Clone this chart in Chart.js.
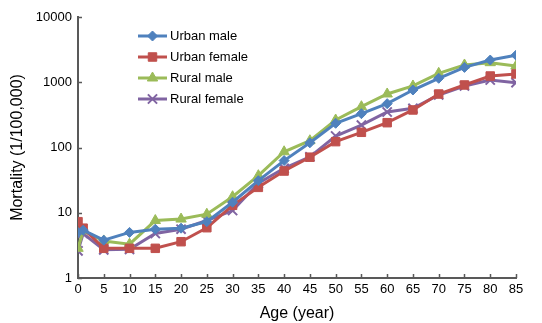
<!DOCTYPE html>
<html>
<head>
<meta charset="utf-8">
<script src="https://cdn.jsdelivr.net/npm/chart.js@4"></script>
<style>
  html, body { margin: 0; padding: 0; background: #fff; }
  #wrap { width: 542px; height: 323px; }
</style>
</head>
<body>
<div id="wrap"><canvas id="myChart" width="542" height="323"></canvas></div>
<script>
const ages = [0, 1, 5, 10, 15, 20, 25, 30, 35, 40, 45, 50, 55, 60, 65, 70, 75, 80, 85];
const urbanMale   = [5.0, 5.4, 3.8, 5.0, 5.6, 5.8, 7.3, 14.5, 31, 63, 118, 235, 330, 470, 760, 1150, 1690, 2190, 2600];
const urbanFemale = [7.3, 5.8, 2.85, 2.85, 2.85, 3.6, 5.9, 13, 24.5, 43.6, 71, 123, 171, 240, 376, 660, 908, 1246, 1340];
const ruralMale   = [2.85, 5.3, 3.7, 3.3, 7.6, 8.0, 9.5, 17.6, 37, 86, 127, 264, 422, 661, 877, 1370, 1840, 1995, 1770];
const ruralFemale = [2.6, 4.8, 2.7, 2.75, 4.8, 5.6, 7.6, 10.8, 28.3, 48, 72, 150, 221, 350, 399, 638, 877, 1082, 984];
const yTicks = [1, 10, 100, 1000, 10000];

const seriesNames = ['Urban male', 'Urban female', 'Rural male', 'Rural female'];
const colors = ['#4F81BD', '#C0504D', '#9BBB59', '#8064A2'];
const styles = ['rectRot', 'rect', 'triangle', 'crossRot'];
const radii = [5, 6, 6, 6.5];
const allData = [urbanMale, urbanFemale, ruralMale, ruralFemale];

const FONT = '"Liberation Sans", Arial, sans-serif';
const AXIS = '#595959';

const datasets = allData.map((vals, i) => ({
  label: seriesNames[i],
  data: ages.map((a, j) => ({ x: a, y: vals[j] })),
  borderColor: colors[i],
  backgroundColor: colors[i],
  borderWidth: 3,
  pointStyle: styles[i],
  pointRadius: radii[i],
  pointBorderWidth: i === 3 ? 2 : 1,
  pointBorderColor: colors[i],
  pointBackgroundColor: colors[i],
  tension: 0
}));

// tick marks point into the plot, as in the original
const innerTicks = {
  id: 'innerTicks',
  afterDatasetsDraw(chart) {
    const c = chart.ctx;
    const xs = chart.scales.x, ys = chart.scales.y;
    c.save();
    c.strokeStyle = AXIS;
    c.lineWidth = 1.5;
    c.beginPath();
    xs.ticks.forEach(t => {
      const px = Math.round(xs.getPixelForValue(t.value)) + 0.5;
      c.moveTo(px, ys.bottom);
      c.lineTo(px, ys.bottom - 4);
    });
    ys.ticks.forEach(t => {
      const py = Math.round(ys.getPixelForValue(t.value)) + 0.5;
      c.moveTo(xs.left, py);
      c.lineTo(xs.left + 4, py);
    });
    c.stroke();
    c.restore();
  }
};

// legend drawn inside the plot, like the original
const insideLegend = {
  id: 'insideLegend',
  afterDraw(chart) {
    const c = chart.ctx;
    const x0 = 138, x1 = 167, tx = 170;
    const rows = [36, 57, 78, 99];
    c.save();
    datasets.forEach((ds, i) => {
      const y = rows[i];
      c.strokeStyle = ds.borderColor;
      c.lineWidth = 3;
      c.beginPath();
      c.moveTo(x0, y);
      c.lineTo(x1, y);
      c.stroke();
      c.fillStyle = ds.backgroundColor;
      c.strokeStyle = ds.borderColor;
      c.lineWidth = ds.pointBorderWidth;
      Chart.helpers.drawPoint(c, { pointStyle: ds.pointStyle, radius: ds.pointRadius, borderWidth: ds.pointBorderWidth, rotation: 0 }, (x0 + x1) / 2, y);
      c.fillStyle = '#000';
      c.font = '13px ' + FONT;
      c.textBaseline = 'middle';
      c.textAlign = 'left';
      c.fillText(ds.label, tx, y);
    });
    c.restore();
  }
};

const ctx = document.getElementById('myChart').getContext('2d');
const myChart = new Chart(ctx, {
  type: 'line',
  data: { datasets: datasets },
  plugins: [innerTicks, insideLegend],
  options: {
    responsive: false,
    animation: false,
    layout: { padding: { left: 8, right: 26, top: 17, bottom: 0 } },
    plugins: {
      legend: { display: false },
      tooltip: { enabled: false }
    },
    scales: {
      x: {
        type: 'linear',
        min: 0,
        max: 85,
        ticks: { stepSize: 5, color: '#000', font: { family: FONT, size: 13 }, padding: 4, maxRotation: 0 },
        grid: { display: false, drawOnChartArea: false, drawTicks: false },
        border: { display: true, color: AXIS, width: 2 },
        title: { display: true, text: 'Age (year)', color: '#000', font: { family: FONT, size: 16 }, padding: { top: 4, bottom: 0 } },
        afterFit(scale) { scale.height = 45; }
      },
      y: {
        type: 'logarithmic',
        min: 1,
        max: 10000,
        afterBuildTicks(scale) { scale.ticks = yTicks.map(v => ({ value: v })); },
        ticks: {
          color: '#000',
          font: { family: FONT, size: 13 },
          padding: 6,
          callback: (v) => String(v)
        },
        grid: { display: false, drawOnChartArea: false, drawTicks: false },
        border: { display: true, color: AXIS, width: 2 },
        title: { display: true, text: 'Mortality (1/100,000)', color: '#000', font: { family: FONT, size: 16 }, padding: { top: 0, bottom: 4 } },
        afterFit(scale) { scale.width = 70; }
      }
    }
  }
});
</script>
</body>
</html>
